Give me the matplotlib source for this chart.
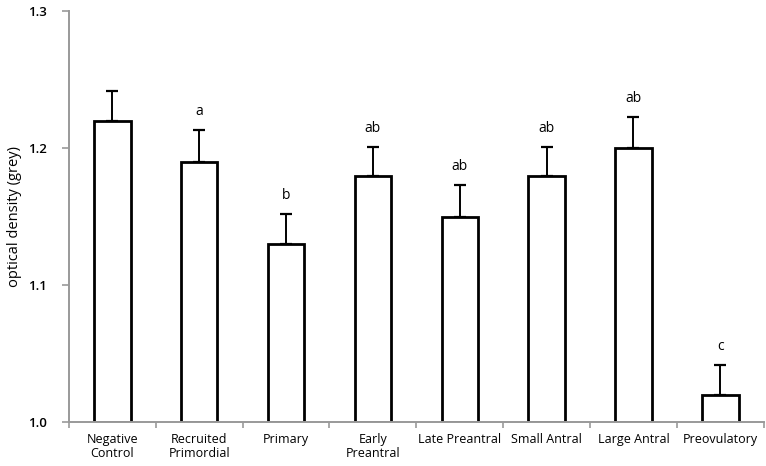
import matplotlib
matplotlib.use("Agg")
import matplotlib.pyplot as plt
import numpy as np

# data
categories = ["Negative\nControl", "Recruited\nPrimordial", "Primary", "Early\nPreantral",
              "Late Preantral", "Small Antral", "Large Antral", "Preovulatory"]
means  = [1.22, 1.19, 1.13, 1.18, 1.15, 1.18, 1.20, 1.02]
errors = [0.022, 0.023, 0.022, 0.021, 0.023, 0.021, 0.023, 0.022]
letters = ["", "a", "b", "ab", "ab", "ab", "ab", "c"]

plt.rcParams["font.family"] = ["Open Sans", "DejaVu Sans"]

fig = plt.figure(figsize=(7.66, 4.66), dpi=100)
ax = fig.add_axes([0.090, 0.094, 0.907, 0.882])

x = np.arange(len(categories))
ax.bar(x, [m - 1.0 for m in means], bottom=1.0, width=0.42, color="white",
       edgecolor="black", linewidth=2.0, zorder=2)
ax.errorbar(x, means, yerr=[np.zeros(len(errors)), errors], fmt="none",
            ecolor="black", elinewidth=1.4, capsize=4, capthick=1.6, zorder=1)

for xi, m, e, lab in zip(x, means, errors, letters):
    if lab:
        ax.text(xi, m + e + 0.008, lab, ha="center", va="bottom", fontsize=10)

ax.set_ylim(1.0, 1.3)
ax.set_xlim(-0.5, len(categories) - 0.5)
ax.set_yticks([1.0, 1.1, 1.2, 1.3])
ax.set_yticklabels(["1.0", "1.1", "1.2", "1.3"], fontsize=9.5, fontweight="semibold")
ax.set_xticks(x)
ax.set_xticklabels(categories, fontsize=9, linespacing=1.05)
ax.set_xticks(np.arange(-0.5, len(categories), 1.0), minor=True)
ax.tick_params(axis="x", which="major", length=0, pad=8)
ax.tick_params(axis="x", which="minor", length=4, color="#999999", width=1.2)
ax.tick_params(axis="y", length=5, color="#999999", width=1.2, pad=11)
ax.set_ylabel("optical density (grey)", fontsize=10.5)
ax.yaxis.set_label_coords(-0.067, 0.5)

for side in ["top", "right"]:
    ax.spines[side].set_visible(False)
for side in ["left", "bottom"]:
    ax.spines[side].set_color("#999999")
    ax.spines[side].set_linewidth(1.4)

fig.savefig("out.png", dpi=100)
plt.close(fig)
